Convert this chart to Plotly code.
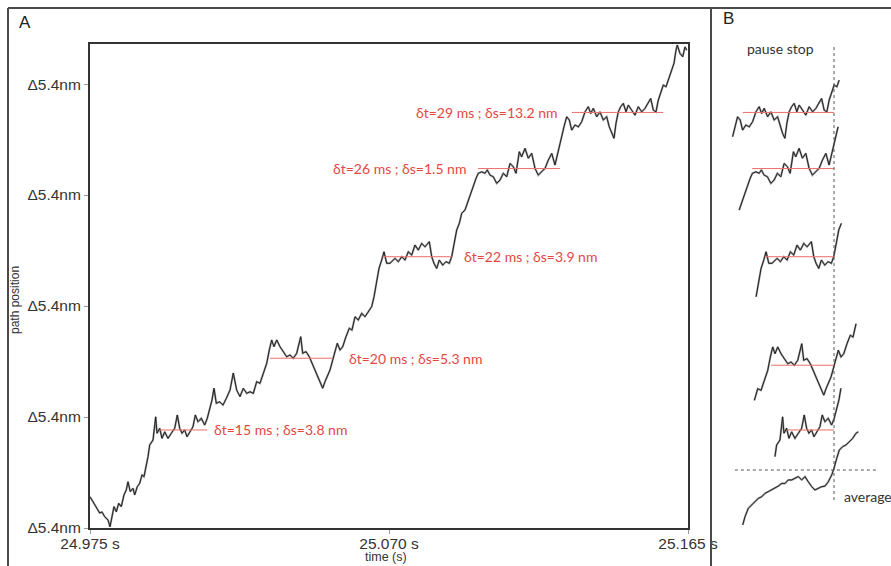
import plotly.graph_objects as go

# ---------------- Panel A data: path position vs time ----------------
# time in ms after 24.975 s, position in nm
T_MS = [0.0, 0.95, 2.0, 3.08, 3.81, 4.67, 5.72, 6.35, 6.99, 7.63, 8.36, 9.12, 9.94, 10.80, 11.53, 12.07,
        12.80, 13.66, 14.20, 15.03, 15.79, 16.52, 17.16, 17.89, 18.43, 18.97, 20.02, 20.87, 21.29, 22.15,
        22.88, 23.73, 24.78, 25.83, 26.91, 27.74, 28.50, 29.23, 30.09, 30.82, 31.68, 32.73, 33.46, 34.31,
        35.36, 36.44, 37.27, 38.03, 38.76, 39.40, 40.13, 41.21, 42.26, 43.31, 44.48, 45.53, 46.61, 47.66,
        48.71, 49.79, 50.84, 51.89, 52.96, 54.01, 55.06, 56.14, 56.97, 57.73, 58.46, 59.32, 60.37, 61.42,
        62.50, 63.55, 64.59, 65.67, 66.95, 67.58, 68.63, 69.68, 70.76, 71.81, 72.54, 73.30, 73.94, 74.67,
        75.40, 76.26, 77.11, 77.84, 78.57, 79.43, 80.29, 81.34, 82.39, 83.24, 84.20, 85.25, 86.33, 87.38,
        88.42, 89.50, 90.24, 91.09, 91.82, 92.68, 93.41, 94.27, 95.32, 96.91, 97.96, 99.04, 100.09, 101.13,
        102.21, 103.26, 104.31, 105.39, 106.44, 107.81, 108.57, 109.30, 110.16, 110.98, 112.06, 113.11,
        114.16, 114.92, 115.65, 116.51, 117.34, 118.10, 119.15, 120.20, 121.28, 122.01, 122.65, 123.38,
        124.46, 125.50, 126.24, 127.09, 128.14, 129.22, 130.27, 131.32, 132.40, 133.45, 134.50, 135.35,
        136.40, 137.14, 138.21, 139.26, 140.34, 141.39, 142.44, 142.98, 144.57, 145.62, 146.70, 147.74,
        148.79, 149.87, 150.60, 151.46, 152.29, 153.05, 154.10, 155.15, 156.23, 157.28, 158.32, 159.09,
        159.91, 160.99, 162.04, 163.09, 164.17, 164.99, 165.76, 166.49, 167.12, 167.86, 168.62, 169.45,
        170.30, 171.03, 172.11, 173.16, 174.21, 175.29, 176.34, 177.39, 178.15, 178.98, 179.83, 180.56,
        181.33, 182.15, 183.01, 183.74, 184.82, 185.55, 186.19, 186.60, 187.46, 188.32, 189.05, 189.59]

POS_NM = [1.52, 1.28, 0.97, 0.73, 0.78, 0.55, 0.39, 0.06, 0.55, 1.04, 0.79, 1.20, 1.04, 1.61, 1.85, 2.25,
          1.77, 1.93, 1.61, 2.01, 2.17, 2.58, 2.50, 2.98, 3.47, 4.04, 4.28, 5.41, 4.61, 4.85,
          4.36, 4.68, 4.36, 4.61, 4.85, 5.50, 4.85, 4.61, 4.77, 4.44, 4.68, 4.93, 5.50, 5.17,
          5.34, 5.01, 5.34, 5.74, 6.23, 6.80, 6.07, 6.14, 5.98, 6.31, 6.71, 7.54, 6.71, 6.39,
          6.80, 6.55, 6.63, 6.55, 7.12, 7.04, 7.53, 8.01, 8.66, 9.15, 8.82, 9.15, 8.82, 8.58,
          8.33, 8.42, 8.26, 8.50, 9.31, 8.50, 8.58, 8.33, 7.93, 7.60, 7.28, 7.04, 6.80, 7.12,
          7.36, 7.69, 8.17, 8.66, 8.99, 8.66, 8.82, 9.31, 9.72, 9.63, 10.28, 10.12, 10.45, 10.28,
          10.52, 10.77, 11.25, 11.90, 12.63, 13.04, 13.44, 12.88, 12.88, 13.12, 12.96, 13.20, 13.04, 13.44,
          13.28, 13.77, 13.52, 13.85, 13.68, 13.93, 13.20, 12.88, 12.63, 13.04, 12.79, 12.96,
          12.88, 13.20, 13.85, 14.50, 14.82, 15.31, 15.47, 15.96, 16.44, 16.69, 17.01, 17.26,
          17.33, 17.26, 17.42, 17.17, 17.09, 16.77, 16.93, 17.26, 17.09, 17.74, 17.58, 17.26,
          18.31, 18.06, 18.47, 17.99, 18.23, 17.50, 17.17, 17.26, 17.50, 17.90, 18.23, 17.66,
          18.39, 19.04, 19.52, 20.01, 19.85, 19.36, 19.61, 19.52, 19.77, 20.25, 20.50, 20.17,
          20.42, 20.01, 20.25, 19.85, 20.01, 19.52, 19.20, 18.96, 19.69, 20.25, 20.50, 20.66,
          20.25, 20.58, 20.33, 20.09, 20.50, 20.25, 20.42, 20.74, 20.90, 20.33, 20.25, 20.82,
          21.15, 21.55, 21.47, 21.79, 22.28, 22.61, 23.25, 23.50, 23.09, 22.93, 23.41, 23.25]

assert len(T_MS) == len(POS_NM), (len(T_MS), len(POS_NM))

X_TICK_VALS = [0, 95, 190]
X_TICK_LABELS = ["24.975 s", "25.070 s", "25.165 s"]
Y_TICK_VALS = [0, 5.4, 10.8, 16.2, 21.6]
Y_TICK_LABELS = ["Δ5.4nm", "Δ5.4nm", "Δ5.4nm", "Δ5.4nm", "Δ5.4nm"]

# detected pauses
PAUSE_END_MS = [37.2, 77.2, 115.0, 149.3, 182.1]
PAUSE_DT_MS = [15, 20, 22, 26, 29]
PAUSE_LEVEL_NM = [4.77, 8.26, 13.20, 17.49, 20.22]
PAUSE_DS_NM = [3.8, 5.3, 3.9, 1.5, 13.2]

# ---------------- Panel B data: pauses aligned on their stop ----------------
SNIP_PRE_MS = [19.0, 25.9, 24.9, 31.0, 32.6]   # window before pause stop
SNIP_POST_MS = [2.4, 7.6, 2.8, 1.6, 2.5]       # window after pause stop
SNIP_SHIFT_NM = [0.0, -0.34, 0.0, 0.0, 0.0]

AVG_T_MS = [-29.01, -28.28, -27.23, -26.15, -25.10, -24.05, -22.97, -21.92, -20.88, -19.80, -18.75,
            -17.70, -16.62, -15.57, -14.52, -13.44, -12.39, -11.34, -10.26, -9.22, -8.17, -7.09,
            -6.04, -4.99, -3.91, -2.86, -1.81, -0.73, 0.00, 0.86, 1.68, 2.76, 3.81, 4.86, 5.94,
            6.99, 7.72]
AVG_POS_NM = [0.15, 0.55, 0.96, 1.12, 1.28, 1.44, 1.52, 1.69, 1.77, 1.85, 1.93,
              2.04, 2.17, 2.17, 2.34, 2.34, 2.42, 2.50, 2.34, 2.50, 2.25, 2.01,
              1.85, 1.93, 2.01, 2.04, 2.25, 2.58, 2.90, 3.39, 3.79, 3.96, 4.04, 4.20, 4.36,
              4.61, 4.68]
AVG_LEVEL_NM = 2.82
AVG_LINE_SPAN_MS = [-31.5, 14.0]

# ---------------- styles ----------------
W, H = 891, 566
def px(x):
    return x / W
def py(y):
    return 1 - y / H

RED_TXT = "#e4473f"
RED_LINE = "#ec6f6a"
TRACE_BG = "#9a9a9a"
TRACE_FG = "#141414"
HELV = "Liberation Sans, Arial, sans-serif"
MYRIAD = "Lato, Open Sans, sans-serif"

fig = go.Figure()

# Panel A trace
fig.add_trace(go.Scatter(x=T_MS, y=POS_NM, mode="lines",
                         line=dict(color=TRACE_BG, width=2.0), hoverinfo="skip", showlegend=False))
fig.add_trace(go.Scatter(x=T_MS, y=POS_NM, mode="lines",
                         line=dict(color=TRACE_FG, width=0.9), showlegend=False))

annotations = []
sides = ["right", "right", "right", "left", "left"]
gaps = [5, 14, 10, 10, 12]
for i in range(len(PAUSE_END_MS)):
    t1 = PAUSE_END_MS[i]
    t0 = t1 - PAUSE_DT_MS[i]
    lv = PAUSE_LEVEL_NM[i]
    fig.add_trace(go.Scatter(x=[t0, t1], y=[lv, lv], mode="lines",
                             line=dict(color=RED_LINE, width=1), showlegend=False))
    txt = f"δt={PAUSE_DT_MS[i]} ms ; δs={PAUSE_DS_NM[i]} nm"
    if sides[i] == "right":
        annotations.append(dict(x=t1, y=lv, xref="x", yref="y", text=txt, showarrow=False,
                                xanchor="left", yanchor="middle", xshift=gaps[i],
                                font=dict(family=MYRIAD, size=14, color=RED_TXT)))
    else:
        annotations.append(dict(x=t0, y=lv, xref="x", yref="y", text=txt, showarrow=False,
                                xanchor="right", yanchor="middle", xshift=-gaps[i],
                                font=dict(family=MYRIAD, size=14, color=RED_TXT)))

# Panel B snippets (taken from panel A trace, aligned on pause stop)
for i in range(len(PAUSE_END_MS)):
    t1 = PAUSE_END_MS[i]
    xs, ys = [], []
    for t, p in zip(T_MS, POS_NM):
        if t1 - SNIP_PRE_MS[i] <= t <= t1 + SNIP_POST_MS[i]:
            xs.append(t - t1)
            ys.append(p + SNIP_SHIFT_NM[i])
    fig.add_trace(go.Scatter(x=xs, y=ys, xaxis="x2", yaxis="y2", mode="lines",
                             line=dict(color=TRACE_BG, width=2.0), hoverinfo="skip", showlegend=False))
    fig.add_trace(go.Scatter(x=xs, y=ys, xaxis="x2", yaxis="y2", mode="lines",
                             line=dict(color=TRACE_FG, width=0.9), showlegend=False))
    lv = PAUSE_LEVEL_NM[i] + SNIP_SHIFT_NM[i]
    fig.add_trace(go.Scatter(x=[-PAUSE_DT_MS[i], 0], y=[lv, lv], xaxis="x2", yaxis="y2", mode="lines",
                             line=dict(color=RED_LINE, width=1), showlegend=False))

fig.add_trace(go.Scatter(x=AVG_T_MS, y=AVG_POS_NM, xaxis="x2", yaxis="y2", mode="lines",
                         line=dict(color=TRACE_BG, width=2.0), hoverinfo="skip", showlegend=False))
fig.add_trace(go.Scatter(x=AVG_T_MS, y=AVG_POS_NM, xaxis="x2", yaxis="y2", mode="lines",
                         line=dict(color=TRACE_FG, width=0.9), showlegend=False))

Y_RANGE = [0, 23.55]

shapes = [
    # outer figure frame
    dict(type="line", xref="paper", yref="paper", x0=px(8), x1=1, y0=py(8), y1=py(8),
         line=dict(color="#4a4a4a", width=2)),
    dict(type="line", xref="paper", yref="paper", x0=px(8), x1=px(8), y0=0, y1=py(8),
         line=dict(color="#4a4a4a", width=2)),
    dict(type="line", xref="paper", yref="paper", x0=px(711), x1=px(711), y0=0, y1=py(8),
         line=dict(color="#4a4a4a", width=2)),
    # panel B guides
    dict(type="line", xref="x2", yref="y2", x0=0, x1=0, y0=1.36, y1=Y_RANGE[1],
         line=dict(color="#555555", width=1, dash="3px,3px")),
    dict(type="line", xref="x2", yref="y2", x0=AVG_LINE_SPAN_MS[0], x1=AVG_LINE_SPAN_MS[1],
         y0=AVG_LEVEL_NM, y1=AVG_LEVEL_NM, line=dict(color="#555555", width=1, dash="3px,3px")),
]

annotations += [
    dict(x=px(17), y=py(22), xref="paper", yref="paper", text="A", showarrow=False,
         xanchor="left", yanchor="middle", font=dict(family=HELV, size=17, color="#222")),
    dict(x=px(721), y=py(18), xref="paper", yref="paper", text="B", showarrow=False,
         xanchor="left", yanchor="middle", font=dict(family=HELV, size=17, color="#222")),
    dict(x=px(745), y=py(48), xref="paper", yref="paper", text="pause stop", showarrow=False,
         xanchor="left", yanchor="middle", font=dict(family=MYRIAD, size=14, color="#333")),
    dict(x=px(842), y=py(496), xref="paper", yref="paper", text="average", showarrow=False,
         xanchor="left", yanchor="middle", font=dict(family=MYRIAD, size=14, color="#333")),
    dict(x=px(386), y=py(566), xref="paper", yref="paper", text="time (s)", showarrow=False,
         xanchor="center", yanchor="bottom", font=dict(family=HELV, size=12.5, color="#333")),
    dict(x=px(15), y=py(300), xref="paper", yref="paper", text="path position", showarrow=False,
         textangle=-90, xanchor="center", yanchor="middle",
         font=dict(family=HELV, size=12, color="#333")),
]

axis_common = dict(showgrid=False, zeroline=False, showline=True, linecolor="#333",
                   linewidth=2, mirror=True, ticks="outside", ticklen=4, tickwidth=1,
                   automargin=False, tickcolor="#9a9a9a")

fig.update_layout(
    width=W, height=H,
    margin=dict(l=0, r=0, t=0, b=0, pad=0, autoexpand=False),
    paper_bgcolor="white", plot_bgcolor="white",
    showlegend=False,
    xaxis=dict(domain=[px(90), px(688)], range=[0, 190], tickvals=X_TICK_VALS,
               ticktext=X_TICK_LABELS, anchor="y", ticklabelstandoff=-4,
               tickfont=dict(family=HELV, size=15.5, color="#333"), **axis_common),
    yaxis=dict(domain=[py(528), py(44)], range=Y_RANGE, tickvals=Y_TICK_VALS,
               ticktext=Y_TICK_LABELS, anchor="x",
               tickfont=dict(family=HELV, size=15.5, color="#333"), **axis_common),
    xaxis2=dict(domain=[px(712), 1], range=[-38.77, 18.11], visible=False, anchor="y2",
                automargin=False),
    yaxis2=dict(domain=[py(528), py(44)], range=Y_RANGE, visible=False, anchor="x2",
                automargin=False),
    shapes=shapes,
    annotations=annotations,
)

fig.write_html("out.html")
